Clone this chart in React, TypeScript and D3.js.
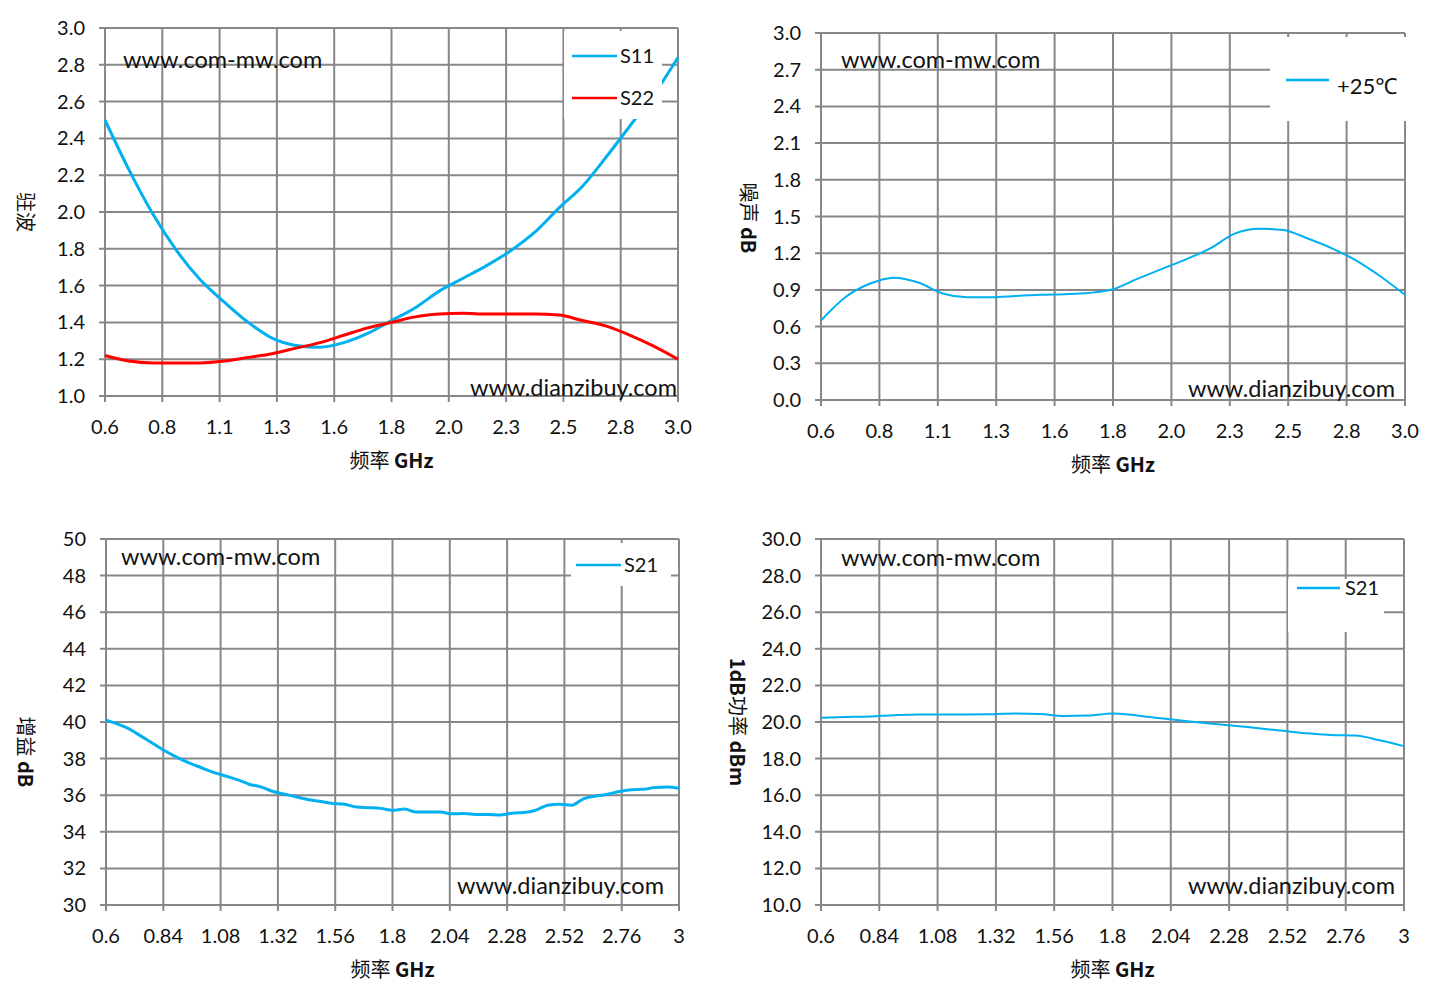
import React from "react";
import * as d3 from "d3";

// shared x ticks (GHz)
const X_TICKS = [0.6, 0.84, 1.08, 1.32, 1.56, 1.8, 2.04, 2.28, 2.52, 2.76, 3.0];

// VSWR
const VSWR_FREQ = [0.6, 0.7, 0.8, 0.9, 1.0, 1.1, 1.2, 1.3, 1.4, 1.5, 1.6, 1.7, 1.8, 1.9, 2.0, 2.1, 2.2, 2.3, 2.4, 2.5, 2.6, 2.7, 2.8, 2.9, 3.0];
const S11 = [2.5, 2.23, 1.99, 1.79, 1.63, 1.51, 1.4, 1.315, 1.275, 1.265, 1.29, 1.34, 1.41, 1.48, 1.57, 1.64, 1.71, 1.79, 1.89, 2.02, 2.14, 2.3, 2.47, 2.64, 2.84];
const S22 = [1.22, 1.19, 1.18, 1.18, 1.18, 1.19, 1.21, 1.23, 1.26, 1.29, 1.33, 1.37, 1.4, 1.43, 1.445, 1.45, 1.445, 1.445, 1.445, 1.44, 1.41, 1.38, 1.33, 1.27, 1.2];
const VSWR_TICKS = [1.0, 1.2, 1.4, 1.6, 1.8, 2.0, 2.2, 2.4, 2.6, 2.8, 3.0];

// noise figure
const NF_FREQ = [0.6, 0.7, 0.8, 0.9, 1.0, 1.1, 1.2, 1.3, 1.4, 1.5, 1.6, 1.7, 1.8, 1.9, 2.0, 2.1, 2.2, 2.3, 2.4, 2.5, 2.6, 2.7, 2.8, 2.9, 3.0];
const NF_25C = [0.65, 0.84, 0.95, 1.0, 0.96, 0.87, 0.84, 0.84, 0.85, 0.86, 0.865, 0.875, 0.905, 0.99, 1.07, 1.15, 1.24, 1.36, 1.4, 1.39, 1.32, 1.24, 1.14, 1.01, 0.86];
const NF_TICKS = [0.0, 0.3, 0.6, 0.9, 1.2, 1.5, 1.8, 2.1, 2.4, 2.7, 3.0];

// gain
const GAIN_FREQ = [0.6, 0.65, 0.7, 0.75, 0.8, 0.85, 0.9, 0.95, 1.0, 1.05, 1.1, 1.15, 1.2, 1.25, 1.3, 1.35, 1.4, 1.45, 1.5, 1.55, 1.6, 1.65, 1.7, 1.75, 1.8, 1.85, 1.9, 1.95, 2.0, 2.05, 2.1, 2.15, 2.2, 2.25, 2.3, 2.35, 2.4, 2.45, 2.5, 2.55, 2.6, 2.65, 2.7, 2.75, 2.8, 2.85, 2.9, 2.95, 3.0];
const GAIN_S21 = [40.1, 39.88, 39.6, 39.2, 38.8, 38.4, 38.05, 37.75, 37.5, 37.25, 37.05, 36.85, 36.6, 36.45, 36.2, 36.05, 35.9, 35.75, 35.65, 35.55, 35.5, 35.35, 35.32, 35.28, 35.18, 35.24, 35.08, 35.08, 35.08, 34.98, 35.0, 34.95, 34.95, 34.92, 35.02, 35.05, 35.18, 35.45, 35.5, 35.45, 35.8, 35.95, 36.05, 36.2, 36.3, 36.32, 36.42, 36.45, 36.38];
const GAIN_TICKS = [30, 32, 34, 36, 38, 40, 42, 44, 46, 48, 50];

// P1dB
const P1_FREQ = [0.6, 0.7, 0.8, 0.9, 1.0, 1.1, 1.2, 1.3, 1.4, 1.5, 1.6, 1.7, 1.8, 1.9, 2.0, 2.1, 2.2, 2.3, 2.4, 2.5, 2.6, 2.7, 2.8, 2.9, 3.0];
const P1_S21 = [20.23, 20.27, 20.3, 20.37, 20.41, 20.41, 20.41, 20.42, 20.47, 20.44, 20.33, 20.35, 20.47, 20.36, 20.2, 20.05, 19.92, 19.8, 19.66, 19.52, 19.38, 19.29, 19.26, 19.0, 18.68];
const P1_TICKS = [10, 12, 14, 16, 18, 20, 22, 24, 26, 28, 30];

const BLUE = "#00b0f0";
const RED = "#ff0000";
const GRID = "#878787";
const FONT = "Lato, 'Noto Sans', sans-serif";
const CJK = "'Noto Sans CJK SC', sans-serif";

type Series = { name: string; freq: number[]; vals: number[]; color: string; width: number };
type Box = { x: number; y: number; w: number; h: number };

type PanelProps = {
  x0: number; x1: number; y0: number; y1: number;
  yTicks: number[];
  yFmt: (v: number) => string;
  xFmt: (v: number) => string;
  // title pieces: [text, bold]
  yTitle: [string, boolean][];
  yTitleX: number;
  yTitleY: number;
  series: Series[];
  legend: Box;
  legendItems: { x1: number; x2: number; y: number; tx: number; ty: number; fs: number }[];
  wm1: { x: number; y: number };
  wm2: { x: number; y: number };
};

const Panel = (p: PanelProps) => {
  const x = d3.scaleLinear().domain([0.6, 3.0]).range([p.x0, p.x1]);
  const y = d3.scaleLinear().domain([p.yTicks[0], p.yTicks[p.yTicks.length - 1]]).range([p.y1, p.y0]);
  const line = (s: Series) =>
    d3.line<number>()
      .x((_, i) => x(s.freq[i]))
      .y((d) => y(d))
      .curve(d3.curveMonotoneX)(s.vals) || "";
  return (
    <g>
      {/* grid + ticks */}
      {p.yTicks.map((t) => (
        <line key={"h" + t} x1={p.x0 - 6} x2={p.x1} y1={y(t)} y2={y(t)} stroke={GRID} strokeWidth={2} />
      ))}
      {X_TICKS.map((t) => (
        <line key={"v" + t} x1={x(t)} x2={x(t)} y1={p.y0} y2={p.y1 + 6} stroke={GRID} strokeWidth={2} />
      ))}
      {p.yTicks.map((t) => (
        <text key={"yl" + t} x={p.x0 - 20} y={y(t)} dy="0.35em" textAnchor="end" fontSize={20} fontFamily={FONT} fill="#111">
          {p.yFmt(t)}
        </text>
      ))}
      {X_TICKS.map((t) => (
        <text key={"xl" + t} x={x(t)} y={p.y1 + 31} dy="0.35em" textAnchor="middle" fontSize={20} fontFamily={FONT} fill="#111">
          {p.xFmt(t)}
        </text>
      ))}
      <text x={(p.x0 + p.x1) / 2} y={p.y1 + 65} dy="0.35em" textAnchor="middle" fontSize={20} fontFamily={CJK} fill="#111">
        频率 <tspan fontWeight="bold">GHz</tspan>
      </text>
      <text
        transform={`translate(${p.yTitleX},${p.yTitleY}) rotate(90)`}
        dy="0.35em"
        textAnchor="middle"
        fontSize={20}
        fontFamily={CJK}
        fill="#111"
      >
        {p.yTitle.map(([t, b], i) => (
          <tspan key={i} fontWeight={b ? "bold" : "normal"}>{t}</tspan>
        ))}
      </text>
      {/* curves */}
      {p.series.map((s) => (
        <path key={s.name} d={line(s)} fill="none" stroke={s.color} strokeWidth={s.width} strokeLinejoin="round" />
      ))}
      {/* legend */}
      <rect x={p.legend.x} y={p.legend.y} width={p.legend.w} height={p.legend.h} fill="#fff" />
      {p.series.map((s, i) => {
        const it = p.legendItems[i];
        return (
          <g key={"lg" + s.name}>
            <line x1={it.x1} x2={it.x2} y1={it.y} y2={it.y} stroke={s.color} strokeWidth={2.5} />
            <text x={it.tx} y={it.ty} dy="0.35em" fontSize={it.fs} fontFamily={FONT} fill="#111">
              {s.name}
            </text>
          </g>
        );
      })}
      {/* watermarks */}
      <text x={p.wm1.x} y={p.wm1.y} dy="0.35em" fontSize={23.5} fontFamily={FONT} fill="#111">
        www.com-mw.com
      </text>
      <text x={p.wm2.x} y={p.wm2.y} dy="0.35em" textAnchor="end" fontSize={23.5} fontFamily={FONT} fill="#111">
        www.dianzibuy.com
      </text>
    </g>
  );
};

const f1 = (v: number) => v.toFixed(1);
const f0 = (v: number) => String(v);
const f2 = (v: number) => String(+v.toFixed(2));

export default function App() {
  return (
    <svg width={1438} height={999} style={{ position: "absolute", left: 0, top: 0, background: "#fff" }}>
      <rect width={1438} height={999} fill="#fff" />
      <Panel
        x0={105} x1={678} y0={28} y1={396}
        yTicks={VSWR_TICKS} yFmt={f1} xFmt={f1}
        yTitle={[["驻波", false]]} yTitleX={25} yTitleY={212}
        series={[
          { name: "S11", freq: VSWR_FREQ, vals: S11, color: BLUE, width: 3 },
          { name: "S22", freq: VSWR_FREQ, vals: S22, color: RED, width: 3 },
        ]}
        legend={{ x: 564, y: 31, w: 98, h: 88 }}
        legendItems={[
          { x1: 572, x2: 617, y: 56, tx: 620, ty: 56, fs: 20 },
          { x1: 572, x2: 617, y: 98, tx: 620, ty: 98, fs: 20 },
        ]}
        wm1={{ x: 123, y: 60 }}
        wm2={{ x: 677, y: 388 }}
      />
      <Panel
        x0={821} x1={1405} y0={33} y1={400}
        yTicks={NF_TICKS} yFmt={f1} xFmt={f1}
        yTitle={[["噪声 ", false], ["dB", true]]} yTitleX={748} yTitleY={218}
        series={[{ name: "+25℃", freq: NF_FREQ, vals: NF_25C, color: BLUE, width: 2 }]}
        legend={{ x: 1270, y: 37, w: 140, h: 84 }}
        legendItems={[{ x1: 1286, x2: 1329, y: 80, tx: 1337, ty: 86, fs: 22 }]}
        wm1={{ x: 841, y: 60 }}
        wm2={{ x: 1395, y: 389 }}
      />
      <Panel
        x0={106} x1={679} y0={539} y1={905}
        yTicks={GAIN_TICKS} yFmt={f0} xFmt={f2}
        yTitle={[["增益 ", false], ["dB", true]]} yTitleX={25} yTitleY={752}
        series={[{ name: "S21", freq: GAIN_FREQ, vals: GAIN_S21, color: BLUE, width: 3 }]}
        legend={{ x: 571, y: 543, w: 100, h: 43 }}
        legendItems={[{ x1: 576, x2: 621, y: 565, tx: 624, ty: 565, fs: 20 }]}
        wm1={{ x: 121, y: 557 }}
        wm2={{ x: 664, y: 886 }}
      />
      <Panel
        x0={821} x1={1404} y0={539} y1={905}
        yTicks={P1_TICKS} yFmt={f1} xFmt={f2}
        yTitle={[["1dB", true], ["功率", false], [" dBm", true]]} yTitleX={737} yTitleY={722}
        series={[{ name: "S21", freq: P1_FREQ, vals: P1_S21, color: BLUE, width: 2 }]}
        legend={{ x: 1288, y: 579, w: 96, h: 53 }}
        legendItems={[{ x1: 1297, x2: 1340, y: 588, tx: 1345, ty: 588, fs: 20 }]}
        wm1={{ x: 841, y: 558 }}
        wm2={{ x: 1395, y: 886 }}
      />
    </svg>
  );
}
